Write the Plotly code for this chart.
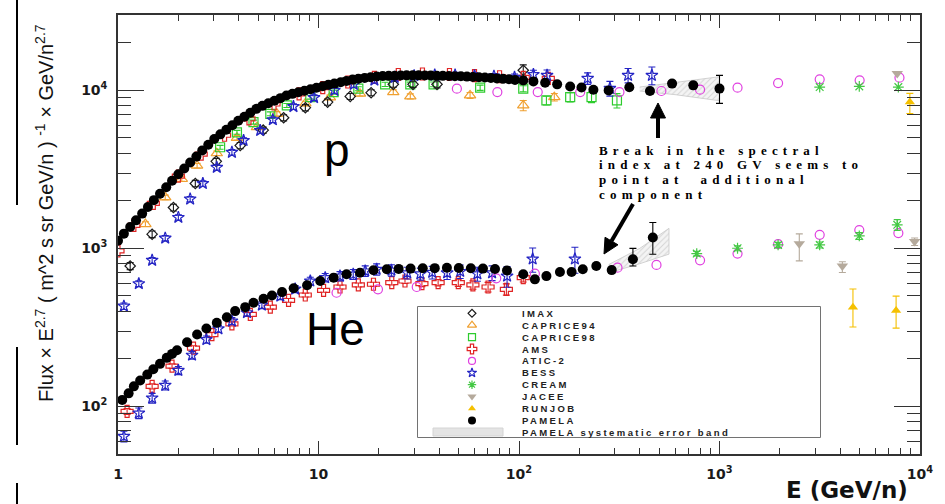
import math
import plotly.graph_objects as go

# ---------------- Proton spectra (E in GeV/n, Flux x E^2.7) ----------------
pamela_p_E = [1.00, 1.07, 1.15, 1.23, 1.32, 1.41, 1.51, 1.62, 1.74, 1.86, 2.00, 2.14, 2.29, 2.46,
              2.63, 2.82, 3.02, 3.24, 3.47, 3.72, 3.98, 4.27, 4.57, 4.90, 5.25, 5.62, 6.03, 6.46,
              6.92, 7.41, 7.94, 8.51, 9.12, 9.77, 10.5, 11.2, 12.0, 12.9, 13.8, 14.8, 15.8, 17.0,
              18.2, 19.5, 20.9, 22.4, 24.0, 25.7, 27.5, 29.5, 31.6, 33.9, 36.3, 38.9, 41.7, 44.7,
              47.9, 51.3, 55.0, 58.9, 63.1, 67.6, 72.4, 77.6, 83.2, 89.1, 95.5, 105, 118, 135,
              155, 180, 205, 235, 280, 355, 450, 580, 740, 1000]
pamela_p_F = [1120, 1240, 1365, 1505, 1660, 1830, 2020, 2220, 2440, 2680, 2945, 3205, 3500, 3810,
              4160, 4530, 4930, 5270, 5640, 6010, 6430, 6810, 7210, 7640, 7980, 8280, 8590, 8930,
              9270, 9505, 9730, 9955, 10160, 10400, 10620, 10840, 11040, 11270, 11480, 11700, 11860,
              11995, 12105, 12245, 12330, 12360, 12390, 12415, 12445, 12445, 12445, 12415, 12415,
              12390, 12360, 12330, 12300, 12275, 12220, 12160, 12105, 12050, 11995, 11910, 11830,
              11750, 11640, 11535, 11400, 11170, 10920, 10590, 10420, 10090, 10000, 10470, 9910,
              11040, 10760, 10260]
pamela_p_err_hi = [0] * 74 + [300, 350, 400, 450, 500, 2190]
pamela_p_err_lo = [0] * 74 + [300, 350, 400, 450, 500, 1990]

pamela_p_band_E = [400, 600, 1000]
pamela_p_band_hi = [10500, 11200, 12200]
pamela_p_band_lo = [9900, 9400, 8600]

imax_p_E = [1.15, 1.48, 1.89, 2.43, 3.09, 4.07, 5.3, 6.7, 8.6, 11.1, 14.4, 18.3, 23.6, 29.6, 39.0, 105]
imax_p_F = [774, 1230, 1815, 2575, 3555, 4475, 5600, 6715, 7770, 8430, 9160, 9670, 10920, 10920,
            10920, 13400]
imax_p_err = [40, 60, 90, 120, 160, 200, 250, 300, 350, 380, 400, 420, 450, 500, 550, 1100]

caprice94_p_E = [1.37, 1.72, 2.08, 2.48, 3.11, 3.92, 4.93, 6.2, 8.6, 11.4, 16.1, 23.6, 28.7, 57,
                 105, 150]
caprice94_p_F = [1425, 2105, 2750, 3340, 4000, 5010, 5850, 7110, 8270, 9030, 9530, 9750, 9160,
                 9300, 8030, 9060]
caprice94_p_err = [50, 70, 90, 110, 130, 160, 190, 230, 270, 300, 320, 340, 350, 400, 600, 500]

caprice98_p_E = [3.23, 3.92, 4.74, 5.75, 6.95, 9.1, 11.9, 15.8, 21.5, 28.7, 37.5, 64, 105, 137,
                 180, 230, 308]
caprice98_p_F = [4365, 5430, 6300, 7110, 8030, 9060, 9750, 10250, 10920, 10920, 10920, 10400,
                 10250, 8640, 9060, 9060, 8640]
caprice98_p_err = [120, 150, 180, 200, 230, 260, 280, 300, 330, 350, 380, 400, 450, 550, 600, 700,
                   900]

ams_p_E = [1.0, 1.2, 1.5, 2.0, 2.6, 3.4, 4.5, 6.0, 8.0, 10.5, 14, 19, 25, 33, 45, 60, 80, 105, 140]
ams_p_F = [965, 1400, 1930, 2870, 3950, 5200, 6600, 8200, 9500, 10400, 11300, 12100, 12600, 12700,
           12600, 12400, 12200, 12100, 11900]

atic_p_E = [49, 78, 124, 202, 317, 513, 800, 1230, 1960, 3160, 5000, 7900]
atic_p_F = [10250, 9750, 9750, 9750, 9750, 9910, 10100, 10400, 11120, 11750, 11570, 12040]

bess_p_E = [1.07, 1.27, 1.48, 1.72, 2.0, 2.29, 2.65, 3.11, 3.70, 4.23, 5.12, 5.92, 7.5, 9.5, 12,
            15, 19, 24, 30, 38, 48, 60, 75, 95, 118, 138, 220, 284, 350, 460]
bess_p_F = [431, 598, 841, 1161, 1570, 2052, 2575, 3257, 4056, 4817, 5572, 6516, 7900, 9000, 10000,
            10900, 11600, 12100, 12400, 12500, 12500, 12400, 12300, 12100, 12600, 12450, 11910,
            10300, 12450, 12450]
bess_p_err = [20, 25, 35, 45, 60, 80, 100, 130, 160, 190, 220, 260, 320, 360, 400, 440, 460, 480,
              500, 500, 500, 500, 500, 600, 800, 1000, 1000, 1100, 1300, 1600]

cream_p_E = [3160, 4980, 7800]
cream_p_F = [10490, 10600, 10490]

jacee_p_E = [7700]
jacee_p_F = [12770]

runjob_p_E = [8900]
runjob_p_F = [8430]
runjob_p_err_hi = [1140]
runjob_p_err_lo = [1290]

# ---------------- Helium spectra ----------------
pamela_he_E = [1.05, 1.13, 1.20, 1.29, 1.40, 1.50, 1.62, 1.75, 1.86, 1.97, 2.21, 2.48, 2.76, 3.11,
               3.49, 3.84, 4.31, 4.74, 5.32, 5.86, 6.58, 7.52, 8.77, 10.2, 11.9, 13.8, 16.1, 18.8,
               21.9, 25.1, 28.8, 33.1, 38.0, 43.7, 50.1, 57.5, 66.1, 75.9, 87.1, 105, 120, 137,
               160, 183, 208, 243, 290, 370, 465]
pamela_he_F = [110, 121, 134, 146, 159, 172, 186, 203, 215, 227, 255, 285, 311, 338, 367, 401, 425,
               453, 480, 504, 529, 559, 584, 622, 653, 686, 702, 727, 738, 742, 745, 748, 750, 755,
               752, 748, 745, 740, 725, 686, 637, 668, 709, 709, 738, 774, 729, 853, 1172]
pamela_he_err_hi = [0] * 45 + [30, 30, 147, 287]
pamela_he_err_lo = [0] * 45 + [30, 30, 79, 254]

pamela_he_band_E = [280, 400, 560]
pamela_he_band_hi = [790, 1000, 1340]
pamela_he_band_lo = [700, 800, 920]

ams_he_E = [1.11, 1.48, 1.86, 2.38, 2.94, 3.70, 4.57, 5.75, 7.09, 8.59, 10.6, 12.8, 15.8, 18.8,
            23.2, 27.0, 32.8, 39.5, 49.8, 58.9, 70.1, 86.5, 105]
ams_he_F = [93, 134, 180, 234, 285, 333, 382, 425, 469, 507, 543, 570, 587, 593, 607, 622, 598, 607,
            607, 587, 570, 551, 653]
ams_he_err = [4, 5, 6, 8, 9, 10, 11, 12, 13, 14, 15, 16, 17, 18, 20, 22, 25, 28, 32, 36, 40, 45, 40]

atic_he_E = [12.3, 19.8, 30.9, 77, 120, 310, 485, 800, 1230, 1960, 3160, 4980, 7800]
atic_he_F = [524, 551, 570, 647, 692, 755, 786, 841, 927, 1064, 1219, 1306, 1250]

bess_he_E = [1.07, 1.27, 1.48, 1.72, 2.0, 2.34, 2.76, 3.17, 3.70, 4.40, 5.22, 6.45, 7.65, 9.1, 10.8,
             12.8, 14.9, 17.1, 19.5, 23.1, 27.7, 32.2, 36.9, 43.8, 50.9, 62, 73.4, 87.2, 117, 190]
bess_he_F = [64.6, 90.7, 113, 136, 169, 211, 265, 310, 347, 392, 438, 499, 553, 622, 653, 668, 686,
             720, 738, 728, 700, 690, 705, 700, 715, 690, 700, 668, 857, 857]
bess_he_err = [5, 7, 8, 9, 10, 12, 14, 16, 18, 20, 22, 25, 28, 35, 40, 45, 50, 55, 60, 60, 60, 60,
               65, 65, 70, 70, 75, 100, 150, 160]

cream_he_E = [770, 1230, 1960, 3160, 4980, 7700]
cream_he_F = [927, 1002, 1052, 1052, 1199, 1410]
cream_he_err = [30, 35, 40, 45, 60, 110]

jacee_he_E = [2500, 4100, 9400]
jacee_he_F = [1072, 774, 1104]
jacee_he_err_hi = [164, 50, 60]
jacee_he_err_lo = [238, 70, 60]

runjob_he_E = [4630, 7600]
runjob_he_F = [425, 405]
runjob_he_err_hi = [128, 94]
runjob_he_err_lo = [107, 92]

# ---------------- Axis ticks ----------------
x_tick_vals = [1, 10, 100, 1000, 10000]
x_tick_text = ["1", "10", "10<sup>2</sup>", "10<sup>3</sup>", "10<sup>4</sup>"]
y_tick_vals = [100, 1000, 10000]
y_tick_text = ["10<sup>2</sup>", "10<sup>3</sup>", "10<sup>4</sup>"]

legend_names = ["IMAX", "CAPRICE94", "CAPRICE98", "AMS", "ATIC-2", "BESS", "CREAM", "JACEE",
                "RUNJOB", "PAMELA", "PAMELA systematic error band"]

# ---------------- Styles ----------------
STY = {
    "IMAX": dict(symbol="diamond-open", color="#1a1a1a", size=8),
    "CAPRICE94": dict(symbol="triangle-up-open", color="#f0a030", size=10),
    "CAPRICE98": dict(symbol="square-open", color="#2ecc2e", size=9),
    "AMS": dict(symbol="cross-open", color="#e02424", size=10),
    "ATIC-2": dict(symbol="circle-open", color="#e040e0", size=9),
    "BESS": dict(symbol="star-open", color="#2424c4", size=9),
    "CREAM": dict(symbol="asterisk-open", color="#44c844", size=9),
    "JACEE": dict(symbol="triangle-down", color="#b5aa9c", size=10),
    "RUNJOB": dict(symbol="triangle-up", color="#f5c000", size=9),
    "PAMELA": dict(symbol="circle", color="#000000", size=10),
}

SANS_BOLD = "DejaVu Sans, Liberation Sans, Arial, sans-serif"

# plot area in pixels
W, H = 945, 504
L, R, T, B = 118, 25, 15, 50
PW, PH = W - L - R, H - T - B


def px(x):
    return (x - L) / PW


def py(y):
    return (H - B - y) / PH


def spaced(text, sp, size):
    return f"<span style='letter-spacing:{sp}px;font-size:{size}px'>{text}</span>"


fig = go.Figure()


def marker(name):
    s = STY[name]
    m = dict(symbol=s["symbol"], size=s["size"], color=s["color"],
             line=dict(color=s["color"], width=1.2))
    if s["symbol"] in ("circle", "triangle-down", "triangle-up"):
        m["line"] = dict(width=0)
    return m


def add(name, E, F, err=None, err_lo=None):
    c = STY[name]["color"]
    ey = None
    if err is not None:
        ey = dict(type="data", array=err, arrayminus=err_lo if err_lo is not None else err,
                  symmetric=err_lo is None, color=c, thickness=1.1, width=3.5)
    fig.add_trace(go.Scatter(x=E, y=F, mode="markers", marker=marker(name), error_y=ey,
                             showlegend=False, hoverinfo="skip"))


def band(E, hi, lo):
    fig.add_trace(go.Scatter(
        x=E + E[::-1], y=hi + lo[::-1], mode="lines", fill="toself",
        line=dict(color="#c8c8c8", width=0.8),
        fillcolor="rgba(225,225,225,0.55)",
        fillpattern=dict(shape="/", fgcolor="#b5b5b5", bgcolor="rgba(236,236,236,0.6)",
                         size=4, solidity=0.25),
        showlegend=False, hoverinfo="skip"))


band(pamela_p_band_E, pamela_p_band_hi, pamela_p_band_lo)
band(pamela_he_band_E, pamela_he_band_hi, pamela_he_band_lo)

# proton
add("CAPRICE94", caprice94_p_E, caprice94_p_F, caprice94_p_err)
add("CAPRICE98", caprice98_p_E, caprice98_p_F, caprice98_p_err)
add("IMAX", imax_p_E, imax_p_F, imax_p_err)
add("AMS", ams_p_E, ams_p_F)
add("BESS", bess_p_E, bess_p_F, bess_p_err)
add("ATIC-2", atic_p_E, atic_p_F)
add("CREAM", cream_p_E, cream_p_F)
add("JACEE", jacee_p_E, jacee_p_F)
add("RUNJOB", runjob_p_E, runjob_p_F, runjob_p_err_hi, runjob_p_err_lo)
# helium
add("AMS", ams_he_E, ams_he_F, ams_he_err)
add("BESS", bess_he_E, bess_he_F, bess_he_err)
add("ATIC-2", atic_he_E, atic_he_F)
add("CREAM", cream_he_E, cream_he_F, cream_he_err)
add("JACEE", jacee_he_E, jacee_he_F, jacee_he_err_hi, jacee_he_err_lo)
add("RUNJOB", runjob_he_E, runjob_he_F, runjob_he_err_hi, runjob_he_err_lo)
# PAMELA on top
add("PAMELA", pamela_p_E, pamela_p_F, pamela_p_err_hi, pamela_p_err_lo)
add("PAMELA", pamela_he_E, pamela_he_F, pamela_he_err_hi, pamela_he_err_lo)

# ---------------- Legend panel (own small axes) ----------------
LEG_X0, LEG_X1, LEG_Y0, LEG_Y1 = 418, 820, 307, 437
row_y = [(LEG_Y1 - (313.3 + i * 11.9)) / (LEG_Y1 - LEG_Y0) for i in range(len(legend_names))]
sym_x = (472 - LEG_X0) / (LEG_X1 - LEG_X0)
for i, name in enumerate(legend_names[:-1]):
    m = marker(name)
    m["size"] = max(m["size"] - 2, 6)
    fig.add_trace(go.Scatter(x=[sym_x], y=[row_y[i]], mode="markers", marker=m,
                             xaxis="x2", yaxis="y2", showlegend=False, hoverinfo="skip"))

shapes = [
    dict(type="rect", xref="paper", yref="paper", x0=px(LEG_X0), x1=px(LEG_X1), y0=py(LEG_Y1),
         y1=py(LEG_Y0), line=dict(color="#444444", width=1.5), fillcolor="white", layer="below"),
    dict(type="rect", xref="paper", yref="paper", x0=px(433), x1=px(503), y0=py(436), y1=py(428),
         line=dict(color="#d4d4d4", width=1), fillcolor="#e4e4e4", layer="above"),
]
# thin rules at the far left edge
for y0, y1 in [(0, 205), (347, 445), (483, 504)]:
    shapes.append(dict(type="line", xref="paper", yref="paper", x0=px(17), x1=px(17),
                       y0=py(y0), y1=py(y1), line=dict(color="black", width=2)))


def arrow(tail, tip, head_len=15, half_w=7.5, width=4):
    """Thick arrow drawn as a shaft plus a filled triangular head (pixel coords)."""
    dx, dy = tip[0] - tail[0], tip[1] - tail[1]
    n = math.hypot(dx, dy)
    ux, uy = dx / n, dy / n
    bx, by = tip[0] - head_len * ux, tip[1] - head_len * uy
    pxv, pyv = -uy, ux
    c1 = (bx + half_w * pxv, by + half_w * pyv)
    c2 = (bx - half_w * pxv, by - half_w * pyv)
    shaft = dict(type="line", xref="paper", yref="paper", x0=px(tail[0]), y0=py(tail[1]),
                 x1=px(bx), y1=py(by), line=dict(color="black", width=width))
    path = "M {} {} L {} {} L {} {} Z".format(px(tip[0]), py(tip[1]), px(c1[0]), py(c1[1]),
                                               px(c2[0]), py(c2[1]))
    head = dict(type="path", xref="paper", yref="paper", path=path, fillcolor="black",
                line=dict(color="black", width=1))
    return [shaft, head]


shapes += arrow((658, 138), (658, 103))
shapes += arrow((633, 204), (604, 254))

annotations = []
for i, name in enumerate(legend_names):
    annotations.append(dict(
        xref="paper", yref="paper", x=px(520), y=py(313.3 + i * 11.9), xanchor="left",
        yanchor="middle", showarrow=False, text=spaced(name, 2.4, 9.5),
        font=dict(family="Liberation Sans, Arial, sans-serif", size=9.5, color="#222",
                  weight="bold")))

# particle labels
annotations.append(dict(xref="paper", yref="paper", x=px(337), y=py(150), text="p",
                        showarrow=False, xanchor="center", yanchor="middle",
                        font=dict(family="Liberation Sans, Arial, sans-serif", size=46,
                                  color="black")))
annotations.append(dict(xref="paper", yref="paper", x=px(335), y=py(329), text="He",
                        showarrow=False, xanchor="center", yanchor="middle",
                        font=dict(family="Liberation Sans, Arial, sans-serif", size=46,
                                  color="black")))

# remark about the spectral break
remark = ["Break in the spectral", "index at 240 GV seems to", "point at  additional",
          "component"]
for i, line in enumerate(remark):
    annotations.append(dict(
        xref="paper", yref="paper", x=px(597), y=py(150 + i * 14.8), xanchor="left",
        yanchor="middle", showarrow=False, text=spaced(line, 5.2, 13),
        font=dict(family="Liberation Serif, Times New Roman, serif", size=13, color="black",
                  weight="bold")))

# axis titles
annotations.append(dict(
    xref="paper", yref="paper", x=px(44), y=py(213), textangle=-90, showarrow=False,
    xanchor="center", yanchor="middle",
    text="Flux × E<sup>2.7</sup> ( m^2 s sr GeV/n ) <sup>-1</sup> × GeV/n<sup>2.7</sup>",
    font=dict(family="Liberation Sans Narrow, Liberation Sans, Arial, sans-serif",
              size=20, color="#111")))
annotations.append(dict(
    xref="paper", yref="paper", x=px(910), y=py(490), xanchor="right", yanchor="middle",
    showarrow=False, text="E (GeV/n)",
    font=dict(family=SANS_BOLD, size=23, color="#111", weight="bold")))

x_minor = [m * 10 ** k for k in range(0, 4) for m in range(2, 10)]
y_minor = [m * 10 ** k for k in range(1, 5) for m in range(2, 10)]
y_minor = [v for v in y_minor if 50 <= v <= 30000]

axis_common = dict(type="log", showgrid=False, zeroline=False, showline=True,
                   linecolor="#333333", linewidth=1.5, mirror="ticks", ticks="inside",
                   tickcolor="#333333", tickwidth=1.2,
                   tickfont=dict(family=SANS_BOLD, size=14, color="#1a1a1a", weight="bold"))

fig.update_layout(
    width=W, height=H, margin=dict(l=L, r=R, t=T, b=B), autosize=False,
    paper_bgcolor="white", plot_bgcolor="white",
    xaxis=dict(axis_common, range=[0, 4], tickvals=x_tick_vals, ticktext=x_tick_text,
               ticklen=13, ticklabelstandoff=6,
               minor=dict(ticks="inside", ticklen=6, tickvals=x_minor, tickcolor="#333333",
                          tickwidth=1)),
    yaxis=dict(axis_common, range=[1.699, 4.477], tickvals=y_tick_vals, ticktext=y_tick_text,
               ticklen=26, ticklabelstandoff=6,
               minor=dict(ticks="inside", ticklen=13, tickvals=y_minor, tickcolor="#333333",
                          tickwidth=1)),
    xaxis2=dict(domain=[px(LEG_X0), px(LEG_X1)], range=[0, 1], visible=False, anchor="y2",
                fixedrange=True),
    yaxis2=dict(domain=[py(LEG_Y1), py(LEG_Y0)], range=[0, 1], visible=False, anchor="x2",
                fixedrange=True),
    shapes=shapes, annotations=annotations, showlegend=False,
)

fig.write_html("out.html")
